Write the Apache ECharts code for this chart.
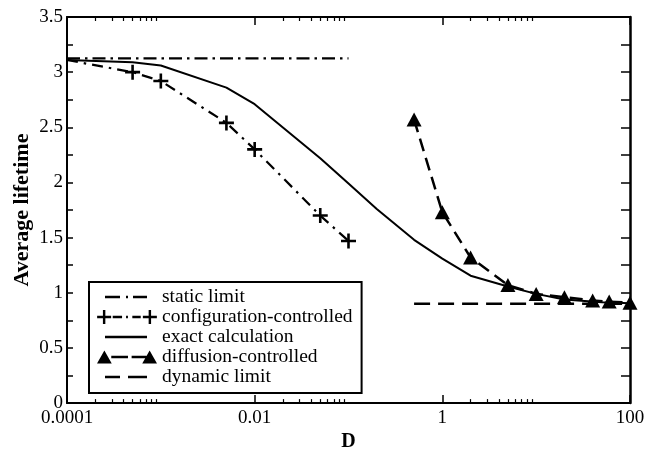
<!DOCTYPE html>
<html>
<head>
<meta charset="utf-8">
<script src="https://cdn.jsdelivr.net/npm/echarts@6/dist/echarts.min.js"></script>
<style>
  html, body { margin: 0; padding: 0; background: #fff; }
  #chart { width: 657px; height: 457px; }
</style>
</head>
<body>
<div id="chart"></div>
<script>
// Average lifetime versus D (log scale)
const D_STATIC = [0.0001, 0.1];
const STATIC_LIMIT = [3.125, 3.125];

const D_CONFIG = [0.0001, 0.0005, 0.001, 0.005, 0.01, 0.05, 0.1];
const CONFIG_CONTROLLED = [3.11, 3.0, 2.92, 2.54, 2.3, 1.7, 1.47];

const D_EXACT = [0.0001, 0.0005, 0.001, 0.005, 0.01, 0.05, 0.1, 0.2, 0.5, 1, 2, 5, 10, 20, 50, 100];
const EXACT_CALC = [3.11, 3.09, 3.06, 2.86, 2.71, 2.22, 1.99, 1.76, 1.48, 1.31, 1.155, 1.057, 0.99, 0.94, 0.915, 0.905];

const D_DIFF = [0.5, 1, 2, 5, 10, 20, 40, 60, 100];
const DIFFUSION_CONTROLLED = [2.57, 1.73, 1.32, 1.07, 0.99, 0.96, 0.93, 0.92, 0.91];

const D_DYN = [0.5, 100];
const DYNAMIC_LIMIT = [0.9, 0.9];

const X_MAJOR = [0.0001, 0.01, 1, 100];
const X_MAJOR_LABELS = ['0.0001', '0.01', '1', '100'];
const X_MINOR = [0.0002, 0.0003, 0.0004, 0.0005, 0.0006, 0.0007, 0.0008, 0.0009,
                 0.02, 0.03, 0.04, 0.05, 0.06, 0.07, 0.08, 0.09,
                 2, 3, 4, 5, 6, 7, 8, 9];

const NAMES = ['static limit', 'configuration-controlled', 'exact calculation',
               'diffusion-controlled', 'dynamic limit'];

const FONT = '"Liberation Serif", "Times New Roman", serif';

function pairs(xs, ys) { return xs.map((x, i) => [x, ys[i]]); }

// filled plus glyph for the configuration-controlled markers
const PLUS = 'path://M6.2,0H8.8V6.2H15V8.8H8.8V15H6.2V8.8H0V6.2H6.2Z';

// legend samples drawn in a 60x14 box; corner specks pin the box size
const BOX = 'M0,0h0.01v0.01h-0.01Z M59.99,13.99h0.01v0.01h-0.01Z ';
function seg(x0, x1) { return 'M' + x0 + ',5.75H' + x1 + 'V8.25H' + x0 + 'Z '; }
function plusAt(cx) {
  const a = cx - 7.5, b = cx - 1.3, c = cx + 1.3, d = cx + 7.5;
  return 'M' + b + ',-0.5H' + c + 'V5.7H' + d + 'V8.3H' + c + 'V14.5H' + b + 'V8.3H' + a + 'V5.7H' + b + 'Z ';
}
function triAt(cx) {
  return 'M' + (cx - 7.5) + ',13.5L' + cx + ',0.5L' + (cx + 7.5) + ',13.5Z ';
}
const ICONS = [
  'path://' + BOX + seg(8, 23) + seg(29, 31) + seg(36, 50),
  'path://' + BOX + plusAt(5.5) + seg(14.7, 24.7) + seg(29, 31) + seg(35.7, 44.7) + plusAt(54.5),
  'path://' + BOX + seg(8, 50),
  'path://' + BOX + triAt(7) + seg(14, 31) + seg(34.7, 49.7) + triAt(53),
  'path://' + BOX + seg(8, 23) + seg(31, 50)
];

const legendText = { fontFamily: FONT, fontSize: 19.5, color: '#000', lineHeight: 19 };

const chart = echarts.init(document.getElementById('chart'), null, { renderer: 'canvas' });

const axisLine = { show: true, lineStyle: { color: '#000', width: 2 } };
const xCommon = { type: 'log', logBase: 10, min: 0.0001, max: 100, gridIndex: 0, splitLine: { show: false } };

const option = {
  animation: false,
  backgroundColor: '#fff',
  textStyle: { fontFamily: FONT },
  grid: { left: 67, right: 27, top: 17, bottom: 45, containLabel: false },
  legend: {
    orient: 'vertical',
    left: 89, top: 282,
    padding: [5, 9, 6, 8],
    itemWidth: 60, itemHeight: 14, itemGap: 0,
    borderColor: '#000', borderWidth: 2, backgroundColor: '#fff',
    selectedMode: false,
    itemStyle: { borderWidth: 0, color: '#000' },
    textStyle: legendText,
    data: NAMES.map((n, i) => ({ name: n, icon: ICONS[i], textStyle: legendText }))
  },
  xAxis: [
    Object.assign({}, xCommon, {
      position: 'bottom',
      name: 'D', nameLocation: 'middle', nameGap: 15,
      nameTextStyle: { fontFamily: FONT, fontSize: 20, fontWeight: 'bold', color: '#000' },
      axisLine: axisLine,
      axisTick: { show: true, inside: true, length: 8, customValues: X_MAJOR, lineStyle: { color: '#000', width: 1.5 } },
      axisLabel: {
        show: true, margin: 5, customValues: X_MAJOR,
        fontFamily: FONT, fontSize: 19, color: '#000',
        formatter: v => X_MAJOR_LABELS[Math.round(Math.log10(v)) / 2 + 2]
      },
      minorTick: { show: false }
    }),
    Object.assign({}, xCommon, {
      position: 'bottom',
      axisLine: { show: false },
      axisTick: { show: true, inside: true, length: 4, customValues: X_MINOR, lineStyle: { color: '#000', width: 1.2 } },
      axisLabel: { show: false }
    }),
    Object.assign({}, xCommon, {
      position: 'top',
      axisLine: axisLine,
      axisTick: { show: true, inside: true, length: 8, customValues: X_MAJOR, lineStyle: { color: '#000', width: 1.5 } },
      axisLabel: { show: false }
    }),
    Object.assign({}, xCommon, {
      position: 'top',
      axisLine: { show: false },
      axisTick: { show: true, inside: true, length: 4, customValues: X_MINOR, lineStyle: { color: '#000', width: 1.2 } },
      axisLabel: { show: false }
    })
  ],
  yAxis: [
    {
      type: 'value', position: 'left', min: 0, max: 3.5, interval: 0.5,
      name: 'Average lifetime', nameLocation: 'middle', nameGap: 34, nameRotate: 90,
      nameMoveOverlap: false,
      nameTextStyle: { fontFamily: FONT, fontSize: 22, fontWeight: 'bold', color: '#000' },
      axisLine: axisLine,
      axisTick: { show: true, inside: true, length: 6, lineStyle: { color: '#000', width: 1.5 } },
      minorTick: { show: true, splitNumber: 2, length: 6, lineStyle: { color: '#000', width: 1.5 } },
      axisLabel: { margin: 4, fontFamily: FONT, fontSize: 19, color: '#000' },
      splitLine: { show: false }
    },
    {
      type: 'value', position: 'right', min: 0, max: 3.5, interval: 0.5,
      axisLine: { show: true, lineStyle: { color: '#000', width: 2.5 } },
      axisTick: { show: true, inside: true, length: 9, lineStyle: { color: '#000', width: 1.5 } },
      minorTick: { show: true, splitNumber: 2, length: 9, lineStyle: { color: '#000', width: 1.5 } },
      axisLabel: { show: false },
      splitLine: { show: false }
    }
  ],
  series: [
    {
      name: NAMES[0], type: 'line', xAxisIndex: 0, yAxisIndex: 0,
      data: pairs(D_STATIC, STATIC_LIMIT), showSymbol: false, symbol: 'none',
      lineStyle: { color: '#000', width: 2.2, type: [13, 5, 2.5, 5] },
      itemStyle: { color: '#000' }
    },
    {
      name: NAMES[1], type: 'line', xAxisIndex: 0, yAxisIndex: 0,
      data: pairs(D_CONFIG, CONFIG_CONTROLLED).map((p, i) => i === 0 ? { value: p, symbol: 'none' } : p),
      symbol: PLUS, symbolSize: 15,
      lineStyle: { color: '#000', width: 2.2, type: [11, 6, 2.5, 6] },
      itemStyle: { color: '#000', borderWidth: 0 }
    },
    {
      name: NAMES[2], type: 'line', xAxisIndex: 0, yAxisIndex: 0,
      data: pairs(D_EXACT, EXACT_CALC), showSymbol: false, symbol: 'none',
      lineStyle: { color: '#000', width: 2 },
      itemStyle: { color: '#000' }
    },
    {
      name: NAMES[3], type: 'line', xAxisIndex: 0, yAxisIndex: 0,
      data: pairs(D_DIFF, DIFFUSION_CONTROLLED),
      symbol: 'triangle', symbolSize: [15, 14],
      lineStyle: { color: '#000', width: 2.5, type: [13, 7] },
      itemStyle: { color: '#000', borderWidth: 0 }
    },
    {
      name: NAMES[4], type: 'line', xAxisIndex: 0, yAxisIndex: 0,
      data: pairs(D_DYN, DYNAMIC_LIMIT), showSymbol: false, symbol: 'none',
      lineStyle: { color: '#000', width: 2.5, type: [16, 8] },
      itemStyle: { color: '#000' }
    }
  ]
};

chart.setOption(option);
</script>
</body>
</html>
